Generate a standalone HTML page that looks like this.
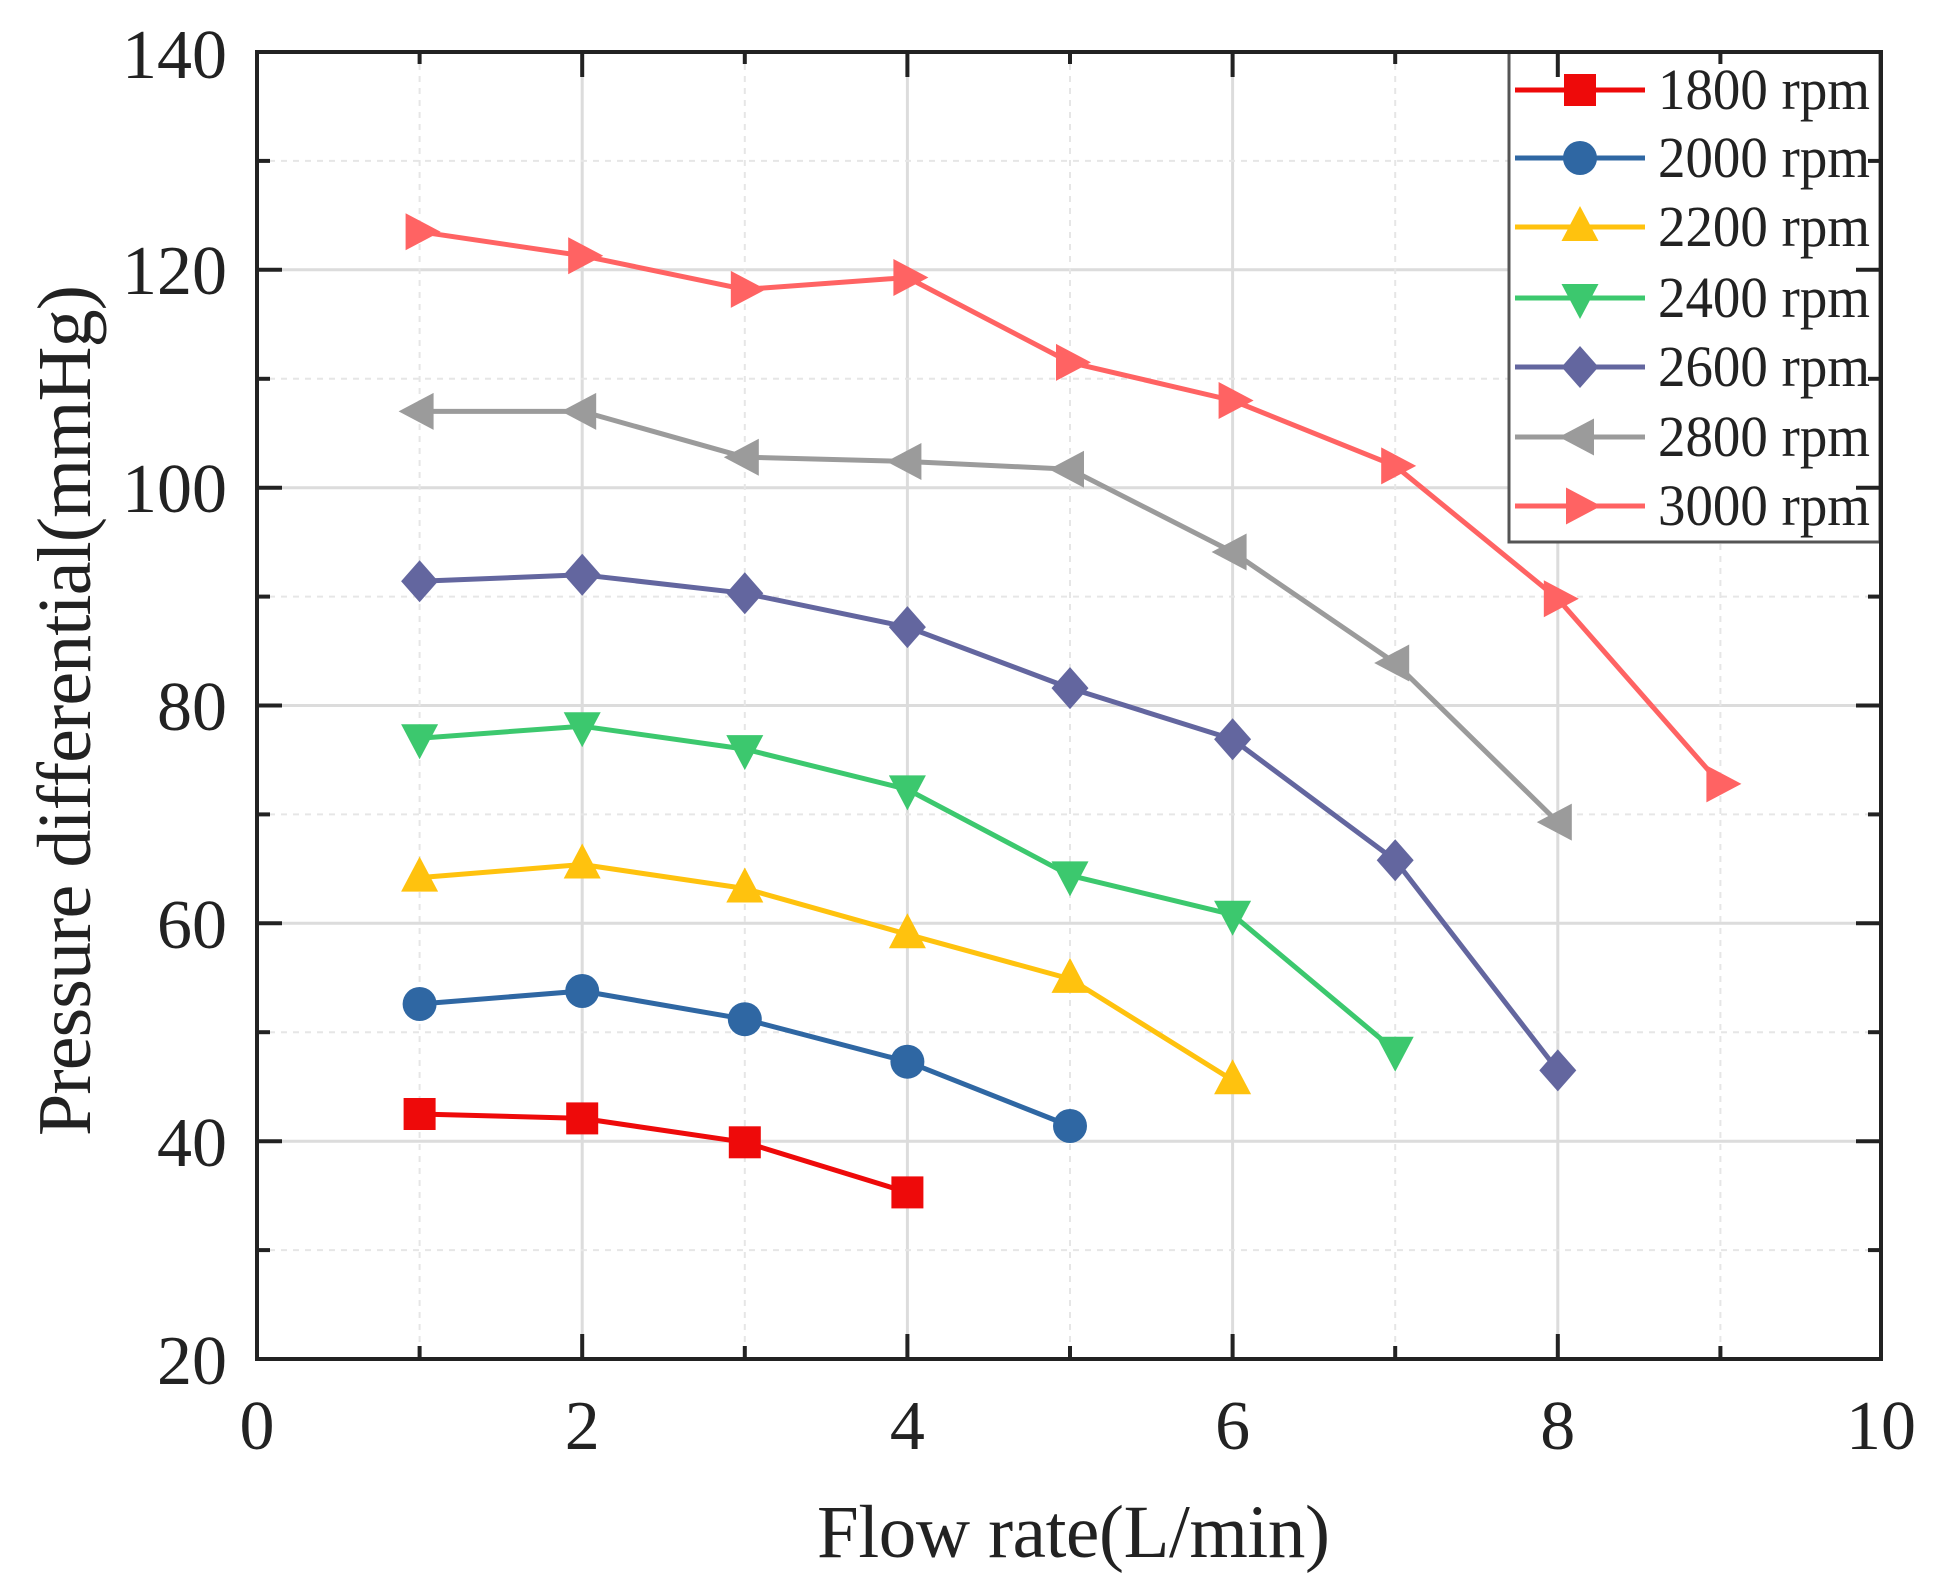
<!DOCTYPE html>
<html><head><meta charset="utf-8"><style>html,body{margin:0;padding:0;background:#fff}svg{display:block}</style></head>
<body>
<svg width="1936" height="1595" viewBox="0 0 1936 1595" xmlns="http://www.w3.org/2000/svg" font-family="'Liberation Serif', serif" fill="#222">
<defs>
<g id="sq"><rect x="-16" y="-16" width="32" height="32"/></g>
<g id="ci"><circle r="17"/></g>
<g id="tu"><path d="M0,-21 L18.5,14 L-18.5,14Z"/></g>
<g id="td"><path d="M0,21 L18.5,-14 L-18.5,-14Z"/></g>
<g id="di"><path d="M0,-21 L18.5,0 L0,21 L-18.5,0Z"/></g>
<g id="tl"><path d="M-21,0 L14,-18.5 L14,18.5Z"/></g>
<g id="tr"><path d="M21,0 L-14,-18.5 L-14,18.5Z"/></g>
</defs>
<!-- grid -->
<g stroke="#dcdcdc" stroke-width="3">
<line x1="582.2" y1="52" x2="582.2" y2="1359"/><line x1="907.4" y1="52" x2="907.4" y2="1359"/><line x1="1232.6" y1="52" x2="1232.6" y2="1359"/><line x1="1557.8" y1="52" x2="1557.8" y2="1359"/>
<line x1="257" y1="269.8" x2="1881" y2="269.8"/><line x1="257" y1="487.7" x2="1881" y2="487.7"/><line x1="257" y1="705.5" x2="1881" y2="705.5"/><line x1="257" y1="923.3" x2="1881" y2="923.3"/><line x1="257" y1="1141.2" x2="1881" y2="1141.2"/>
</g>
<g stroke="#e6e6e6" stroke-width="2" stroke-dasharray="6,6">
<line x1="419.6" y1="52" x2="419.6" y2="1359"/><line x1="744.8" y1="52" x2="744.8" y2="1359"/><line x1="1070" y1="52" x2="1070" y2="1359"/><line x1="1395.2" y1="52" x2="1395.2" y2="1359"/><line x1="1720.4" y1="52" x2="1720.4" y2="1359"/>
<line x1="257" y1="160.9" x2="1881" y2="160.9"/><line x1="257" y1="378.8" x2="1881" y2="378.8"/><line x1="257" y1="596.6" x2="1881" y2="596.6"/><line x1="257" y1="814.4" x2="1881" y2="814.4"/><line x1="257" y1="1032.2" x2="1881" y2="1032.2"/><line x1="257" y1="1250.1" x2="1881" y2="1250.1"/>
</g>
<!-- series -->
<g fill="none" stroke-width="5" stroke-linejoin="round">
<polyline stroke="#ff6363" points="419.6,231.7 582.2,255.7 744.8,289.4 907.4,277.5 1070,362.4 1232.6,400.5 1395.2,465.9 1557.8,598.8 1720.4,783.9"/>
<polyline stroke="#9b9b9b" points="419.6,411.4 582.2,411.4 744.8,457.2 907.4,461.5 1070,469.2 1232.6,552 1395.2,663 1557.8,822.1"/>
<polyline stroke="#63669f" points="419.6,581.3 582.2,574.8 744.8,593.3 907.4,627.1 1070,688.1 1232.6,739.3 1395.2,860.2 1557.8,1070.4"/>
<polyline stroke="#3cc86e" points="419.6,738.2 582.2,726.2 744.8,749.1 907.4,789.4 1070,875.4 1232.6,914.7 1395.2,1050.8"/>
<polyline stroke="#ffc20e" points="419.6,877.6 582.2,864.5 744.8,888.5 907.4,934.3 1070,978.9 1232.6,1080.2"/>
<polyline stroke="#2f67a3" points="419.6,1004 582.2,991 744.8,1019.2 907.4,1061.7 1070,1126"/>
<polyline stroke="#ee0a0a" points="419.6,1114 582.2,1118.4 744.8,1142.3 907.4,1192.4"/>
</g>
<g fill="#ff6363"><use href="#tr" x="419.6" y="231.7"/><use href="#tr" x="582.2" y="255.7"/><use href="#tr" x="744.8" y="289.4"/><use href="#tr" x="907.4" y="277.5"/><use href="#tr" x="1070" y="362.4"/><use href="#tr" x="1232.6" y="400.5"/><use href="#tr" x="1395.2" y="465.9"/><use href="#tr" x="1557.8" y="598.8"/><use href="#tr" x="1720.4" y="783.9"/></g>
<g fill="#9b9b9b"><use href="#tl" x="419.6" y="411.4"/><use href="#tl" x="582.2" y="411.4"/><use href="#tl" x="744.8" y="457.2"/><use href="#tl" x="907.4" y="461.5"/><use href="#tl" x="1070" y="469.2"/><use href="#tl" x="1232.6" y="552"/><use href="#tl" x="1395.2" y="663"/><use href="#tl" x="1557.8" y="822.1"/></g>
<g fill="#63669f"><use href="#di" x="419.6" y="581.3"/><use href="#di" x="582.2" y="574.8"/><use href="#di" x="744.8" y="593.3"/><use href="#di" x="907.4" y="627.1"/><use href="#di" x="1070" y="688.1"/><use href="#di" x="1232.6" y="739.3"/><use href="#di" x="1395.2" y="860.2"/><use href="#di" x="1557.8" y="1070.4"/></g>
<g fill="#3cc86e"><use href="#td" x="419.6" y="738.2"/><use href="#td" x="582.2" y="726.2"/><use href="#td" x="744.8" y="749.1"/><use href="#td" x="907.4" y="789.4"/><use href="#td" x="1070" y="875.4"/><use href="#td" x="1232.6" y="914.7"/><use href="#td" x="1395.2" y="1050.8"/></g>
<g fill="#ffc20e"><use href="#tu" x="419.6" y="877.6"/><use href="#tu" x="582.2" y="864.5"/><use href="#tu" x="744.8" y="888.5"/><use href="#tu" x="907.4" y="934.3"/><use href="#tu" x="1070" y="978.9"/><use href="#tu" x="1232.6" y="1080.2"/></g>
<g fill="#2f67a3"><use href="#ci" x="419.6" y="1004"/><use href="#ci" x="582.2" y="991"/><use href="#ci" x="744.8" y="1019.2"/><use href="#ci" x="907.4" y="1061.7"/><use href="#ci" x="1070" y="1126"/></g>
<g fill="#ee0a0a"><use href="#sq" x="419.6" y="1114"/><use href="#sq" x="582.2" y="1118.4"/><use href="#sq" x="744.8" y="1142.3"/><use href="#sq" x="907.4" y="1192.4"/></g>
<!-- legend -->
<rect x="1509" y="52" width="371" height="490" fill="#fff" stroke="#555" stroke-width="3"/>
<g stroke-width="5">
<line x1="1515" y1="90" x2="1645" y2="90" stroke="#ee0a0a"/><line x1="1515" y1="158" x2="1645" y2="158" stroke="#2f67a3"/><line x1="1515" y1="227" x2="1645" y2="227" stroke="#ffc20e"/><line x1="1515" y1="298" x2="1645" y2="298" stroke="#3cc86e"/><line x1="1515" y1="367" x2="1645" y2="367" stroke="#63669f"/><line x1="1515" y1="437" x2="1645" y2="437" stroke="#9b9b9b"/><line x1="1515" y1="506" x2="1645" y2="506" stroke="#ff6363"/>
</g>
<use href="#sq" x="1580" y="90" fill="#ee0a0a"/><use href="#ci" x="1580" y="158" fill="#2f67a3"/><use href="#tu" x="1580" y="227" fill="#ffc20e"/><use href="#td" x="1580" y="298" fill="#3cc86e"/><use href="#di" x="1580" y="367" fill="#63669f"/><use href="#tl" x="1580" y="437" fill="#9b9b9b"/><use href="#tr" x="1580" y="506" fill="#ff6363"/>
<g font-size="58" fill="#222">
<text x="1658" y="109" textLength="212" lengthAdjust="spacingAndGlyphs">1800 rpm</text><text x="1658" y="177" textLength="212" lengthAdjust="spacingAndGlyphs">2000 rpm</text><text x="1658" y="246" textLength="212" lengthAdjust="spacingAndGlyphs">2200 rpm</text><text x="1658" y="317" textLength="212" lengthAdjust="spacingAndGlyphs">2400 rpm</text><text x="1658" y="386" textLength="212" lengthAdjust="spacingAndGlyphs">2600 rpm</text><text x="1658" y="456" textLength="212" lengthAdjust="spacingAndGlyphs">2800 rpm</text><text x="1658" y="525" textLength="212" lengthAdjust="spacingAndGlyphs">3000 rpm</text>
</g>
<!-- axes frame -->
<rect x="257" y="52" width="1624" height="1307" fill="none" stroke="#222" stroke-width="4"/>
<g stroke="#222" stroke-width="4">
<line x1="582.2" y1="1359" x2="582.2" y2="1334"/><line x1="907.4" y1="1359" x2="907.4" y2="1334"/><line x1="1232.6" y1="1359" x2="1232.6" y2="1334"/><line x1="1557.8" y1="1359" x2="1557.8" y2="1334"/>
<line x1="419.6" y1="1359" x2="419.6" y2="1346"/><line x1="744.8" y1="1359" x2="744.8" y2="1346"/><line x1="1070" y1="1359" x2="1070" y2="1346"/><line x1="1395.2" y1="1359" x2="1395.2" y2="1346"/><line x1="1720.4" y1="1359" x2="1720.4" y2="1346"/>
<line x1="582.2" y1="52" x2="582.2" y2="77"/><line x1="907.4" y1="52" x2="907.4" y2="77"/><line x1="1232.6" y1="52" x2="1232.6" y2="77"/><line x1="1557.8" y1="52" x2="1557.8" y2="77"/>
<line x1="419.6" y1="52" x2="419.6" y2="64"/><line x1="744.8" y1="52" x2="744.8" y2="64"/><line x1="1070" y1="52" x2="1070" y2="64"/><line x1="1395.2" y1="52" x2="1395.2" y2="64"/><line x1="1720.4" y1="52" x2="1720.4" y2="64"/>
<line x1="257" y1="269.8" x2="282" y2="269.8"/><line x1="257" y1="487.7" x2="282" y2="487.7"/><line x1="257" y1="705.5" x2="282" y2="705.5"/><line x1="257" y1="923.3" x2="282" y2="923.3"/><line x1="257" y1="1141.2" x2="282" y2="1141.2"/>
<line x1="257" y1="160.9" x2="270" y2="160.9"/><line x1="257" y1="378.8" x2="270" y2="378.8"/><line x1="257" y1="596.6" x2="270" y2="596.6"/><line x1="257" y1="814.4" x2="270" y2="814.4"/><line x1="257" y1="1032.2" x2="270" y2="1032.2"/><line x1="257" y1="1250.1" x2="270" y2="1250.1"/>
<line x1="1881" y1="269.8" x2="1856" y2="269.8"/><line x1="1881" y1="487.7" x2="1856" y2="487.7"/><line x1="1881" y1="705.5" x2="1856" y2="705.5"/><line x1="1881" y1="923.3" x2="1856" y2="923.3"/><line x1="1881" y1="1141.2" x2="1856" y2="1141.2"/>
<line x1="1881" y1="160.9" x2="1868" y2="160.9"/><line x1="1881" y1="378.8" x2="1868" y2="378.8"/><line x1="1881" y1="596.6" x2="1868" y2="596.6"/><line x1="1881" y1="814.4" x2="1868" y2="814.4"/><line x1="1881" y1="1032.2" x2="1868" y2="1032.2"/><line x1="1881" y1="1250.1" x2="1868" y2="1250.1"/>
</g>
<!-- tick labels -->
<g font-size="70" text-anchor="end" fill="#222">
<text x="227" y="78">140</text><text x="227" y="294">120</text><text x="227" y="512">100</text><text x="227" y="730">80</text><text x="227" y="948">60</text><text x="227" y="1166">40</text><text x="227" y="1384">20</text>
</g>
<g font-size="70" text-anchor="middle" fill="#222">
<text x="257" y="1449">0</text><text x="582.2" y="1449">2</text><text x="907.4" y="1449">4</text><text x="1232.6" y="1449">6</text><text x="1557.8" y="1449">8</text><text x="1881" y="1449">10</text>
</g>
<text x="817" y="1557" font-size="75" textLength="513" fill="#222">Flow rate(L/min)</text>
<text transform="translate(90,1136) rotate(-90)" font-size="76" textLength="851" fill="#222">Pressure differential(mmHg)</text>
</svg>
</body></html>
